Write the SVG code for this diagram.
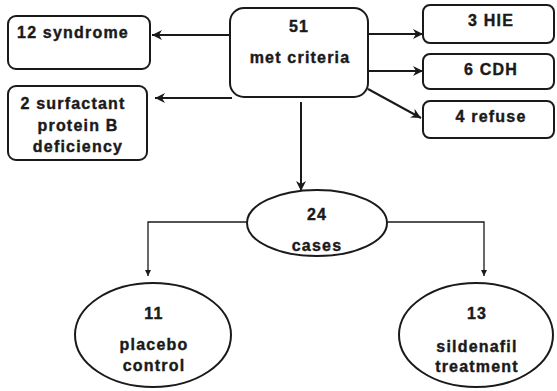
<svg xmlns="http://www.w3.org/2000/svg" width="557" height="391" viewBox="0 0 557 391">
<style>
.box{fill:#fff;stroke:#1a1a1a;stroke-width:2}
.ell{fill:#fff;stroke:#1a1a1a;stroke-width:2}
.t{font-family:"Liberation Sans",Arial,sans-serif;font-weight:bold;font-size:16px;letter-spacing:1.2px;fill:#1a1a1a;stroke:#1a1a1a;stroke-width:0.4px;text-anchor:middle}
.c{fill:none;stroke:#1a1a1a;stroke-width:2}
.c2{fill:none;stroke:#1a1a1a;stroke-width:1.3}
</style>
<defs>
<marker id="ah" markerWidth="12" markerHeight="10" refX="10" refY="5" orient="auto" markerUnits="userSpaceOnUse">
<path d="M0,0 L10,5 L0,10 L3,5 z" fill="#1a1a1a"/>
</marker>
<marker id="ahs" markerWidth="8" markerHeight="8" refX="6" refY="4" orient="auto" markerUnits="userSpaceOnUse">
<path d="M0,1 L6,4 L0,7 z" fill="#1a1a1a"/>
</marker>
</defs>
<g id="connectors">
<path class="c" d="M230,35 H152" marker-end="url(#ah)"/>
<path class="c" d="M232,98 H155" marker-end="url(#ah)"/>
<path class="c" d="M368,34 H423" marker-end="url(#ah)"/>
<path class="c" d="M368,71 H423" marker-end="url(#ah)"/>
<path class="c" d="M368,89 L421,118" marker-end="url(#ah)"/>
<path class="c" d="M301,102 V191" marker-end="url(#ah)"/>
<path class="c2" d="M247,222 H148 V276" marker-end="url(#ahs)"/>
<path class="c2" d="M387,222 H484 V276" marker-end="url(#ahs)"/>
</g>
<g id="n12syndrome">
<rect class="box" x="8" y="16" width="142" height="53" rx="8"/>
<text class="t" x="73" y="38">12 syndrome</text>
</g>
<g id="n2surfactant">
<rect class="box" x="8" y="86" width="139" height="74" rx="8"/>
<text class="t" x="73" y="109">2 surfactant</text>
<text class="t" x="78" y="131">protein B</text>
<text class="t" x="78" y="152">deficiency</text>
</g>
<g id="n51">
<rect class="box" x="230" y="8" width="138" height="89" rx="14"/>
<text class="t" x="299" y="32">51</text>
<text class="t" x="300" y="63">met criteria</text>
</g>
<g id="nHIE">
<rect class="box" x="423" y="5" width="131" height="38" rx="7"/>
<text class="t" x="491" y="26">3 HIE</text>
</g>
<g id="nCDH">
<rect class="box" x="423" y="54" width="131" height="35" rx="7"/>
<text class="t" x="491" y="75">6 CDH</text>
</g>
<g id="nrefuse">
<rect class="box" x="423" y="101" width="131" height="37" rx="7"/>
<text class="t" x="491" y="122">4 refuse</text>
</g>
<g id="ncases">
<ellipse class="ell" cx="317" cy="223" rx="70" ry="33"/>
<text class="t" x="317" y="220">24</text>
<text class="t" x="317" y="251">cases</text>
</g>
<g id="nplacebo">
<ellipse class="ell" cx="153" cy="335" rx="78" ry="52"/>
<text class="t" x="154" y="319">11</text>
<text class="t" x="154" y="350">placebo</text>
<text class="t" x="154" y="371">control</text>
</g>
<g id="nsildenafil">
<ellipse class="ell" cx="476" cy="335" rx="77" ry="52"/>
<text class="t" x="477" y="319">13</text>
<text class="t" x="477" y="352">sildenafil</text>
<text class="t" x="477" y="372">treatment</text>
</g>
</svg>
